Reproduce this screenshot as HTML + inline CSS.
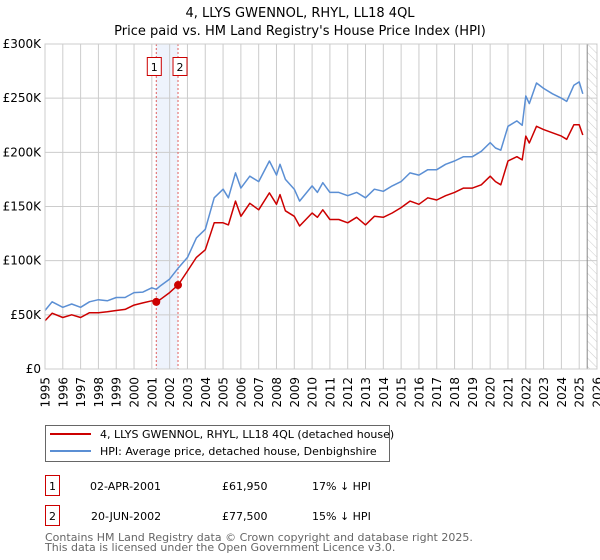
<!DOCTYPE html>
<html><head><meta charset="utf-8"><style>
body{margin:0;background:#fff;font-family:"DejaVu Sans","Liberation Sans",sans-serif;}
svg{display:block}
text{font-family:"DejaVu Sans","Liberation Sans",sans-serif}
</style></head><body>
<svg id="chart" width="600" height="560" viewBox="0 0 600 560" xmlns="http://www.w3.org/2000/svg">
<defs><pattern id="hatch" width="6" height="6" patternUnits="userSpaceOnUse" patternTransform="rotate(-45)"><line x1="0" y1="0" x2="0" y2="6" stroke="#ccc" stroke-width="1"/></pattern></defs>
<text x="300" y="17" text-anchor="middle" font-size="13" fill="#000">4, LLYS GWENNOL, RHYL, LL18 4QL</text>
<text x="300" y="35" text-anchor="middle" font-size="13" fill="#000">Price paid vs. HM Land Registry's House Price Index (HPI)</text>
<g id="plot"></g>
<g>
<rect x="45.5" y="425.5" width="344" height="36" fill="#fff" stroke="#666"/>
<line x1="50" y1="434" x2="91" y2="434" stroke="#cc0000" stroke-width="2"/>
<text x="100" y="438" font-size="11">4, LLYS GWENNOL, RHYL, LL18 4QL (detached house)</text>
<line x1="50" y1="451" x2="91" y2="451" stroke="#5b8fd4" stroke-width="2"/>
<text x="100" y="455" font-size="11">HPI: Average price, detached house, Denbighshire</text>
</g>
<g font-size="11">
<rect x="45.5" y="475.5" width="14" height="20" fill="#fff" stroke="#cc0000"/>
<text x="52.5" y="490" text-anchor="middle">1</text>
<text x="90" y="490">02-APR-2001</text>
<text x="222" y="490">£61,950</text>
<text x="312" y="490">17% ↓ HPI</text>
</g>
<g font-size="11">
<rect x="45.5" y="505.5" width="14" height="20" fill="#fff" stroke="#cc0000"/>
<text x="52.5" y="520" text-anchor="middle">2</text>
<text x="91" y="520">20-JUN-2002</text>
<text x="222" y="520">£77,500</text>
<text x="312" y="520">15% ↓ HPI</text>
</g>
<text x="45" y="541" font-size="11" fill="#666">Contains HM Land Registry data © Crown copyright and database right 2025.</text>
<text x="45" y="551" font-size="11" fill="#666">This data is licensed under the Open Government Licence v3.0.</text>
</svg>
<script>
const years=[1995,1995.4,1996,1996.5,1997,1997.5,1998,1998.5,1999,1999.5,2000,2000.5,2001,2001.25,2001.5,2002,2002.5,2003,2003.5,2004,2004.5,2005,2005.3,2005.7,2006,2006.5,2007,2007.6,2008,2008.2,2008.5,2009,2009.3,2010,2010.3,2010.6,2011,2011.5,2012,2012.5,2013,2013.5,2014,2014.5,2015,2015.5,2016,2016.5,2017,2017.5,2018,2018.5,2019,2019.5,2020,2020.3,2020.6,2021,2021.5,2021.8,2022,2022.2,2022.6,2023,2023.5,2024,2024.3,2024.7,2025,2025.2];
const hpiValues=[54,62,57,60,57,62,64,63,66,66,70.5,71,75,73.6,77,83,93.5,103,121,129,158,166,158,181,167,178,173,192,179,189,175,166,155,169,163,172,163,163,160,163,158,166,164,169,173,181,179,184,184,189,192,196,196,201,209,204,202,224,229,225,252,245,264,259,254,250,247,262,265,254];
const priceValues=[44.5,51.5,47.5,50,47.5,52,52,52.8,54,55,59,61,63,62,64.4,70.5,78,90.5,103,110,135,135,133,155,141,153,147,162.6,152,161,146,141,132,144,140,147,138,138,135,140,133,141,140,144,149,155,152,158,156,160,163,167,167,170,178,173,170,192,196,193,215,208.6,224,221,218,215,212,225.5,225.5,216];
const saleYears=[2001.25,2002.47];
const salePrices=[61.95,77.5];
const saleLabels=["1","2"];
const yTicks=[0,50,100,150,200,250,300];
const yTickLabels=["£0","£50K","£100K","£150K","£200K","£250K","£300K"];
const xTicks=[1995,1996,1997,1998,1999,2000,2001,2002,2003,2004,2005,2006,2007,2008,2009,2010,2011,2012,2013,2014,2015,2016,2017,2018,2019,2020,2021,2022,2023,2024,2025,2026];
const dataEnd=2025.45;

const X0=45,X1=597,Y0=369,Y1=44;
const x=v=>X0+(v-1995)/(2026-1995)*(X1-X0);
const y=v=>Y0-(v/300)*(Y0-Y1);
const NS="http://www.w3.org/2000/svg";
const g=document.getElementById('plot');
function mk(tag,attrs){const e=document.createElementNS(NS,tag);for(const k in attrs)e.setAttribute(k,attrs[k]);g.appendChild(e);return e;}

const bg=mk('rect',{x:X0,y:Y1,width:X1-X0,height:Y0-Y1,fill:'#fff'});


const band=mk('rect',{x:x(saleYears[0]),y:Y1,width:x(saleYears[1])-x(saleYears[0]),height:Y0-Y1,fill:'#eef3fc'});


const hatch=mk('rect',{x:x(dataEnd),y:Y1,width:X1-x(dataEnd),height:Y0-Y1,fill:'url(#hatch)'});



xTicks.forEach(t=>{
  const l=mk('line',{x1:x(t),x2:x(t),y1:Y1,y2:Y0,stroke:'#ccc','stroke-width':1});
  
  
  const tx=mk('text',{x:0,y:0,'text-anchor':'end','font-size':12,transform:'translate('+(x(t)+4.5)+','+(Y0+8)+') rotate(-90)'});
  
  
  tx.textContent=t;
});
yTicks.forEach((t,i)=>{
  const l=mk('line',{x1:X0,x2:X1,y1:y(t),y2:y(t),stroke:'#ccc','stroke-width':1});
  
  
  const tx=mk('text',{x:X0-4,y:y(t)+4,'text-anchor':'end','font-size':12});
  
  
  tx.textContent=yTickLabels[i];
});
const el=mk('line',{x1:x(dataEnd),x2:x(dataEnd),y1:Y1,y2:Y0,stroke:'#888','stroke-width':1});



saleYears.forEach((s,i)=>{
  const l=mk('line',{x1:x(s),x2:x(s),y1:Y1,y2:Y0,stroke:'#e06060','stroke-width':1,'stroke-dasharray':'2,2'});
  
  
});

function path(vals,color,name){
  const d=years.map((t,i)=>(i?'L':'M')+x(t).toFixed(1)+','+y(vals[i]).toFixed(1)).join('');
  const p=mk('path',{d:d,fill:'none',stroke:color,'stroke-width':1.5,'stroke-linejoin':'round'});
  
  
}
path(hpiValues,'#5b8fd4','hpi-line');
path(priceValues,'#cc0000','price-paid-line');

saleYears.forEach((s,i)=>{
  const c=mk('circle',{cx:x(s),cy:y(salePrices[i]),r:4,fill:'#cc0000'});
  
  
  const bx=x(s)-7;
  const r=mk('rect',{x:bx-(i==0?2:-2),y:57.5,width:14,height:18,fill:'#fff',stroke:'#cc0000'});
  
  
  const t=mk('text',{x:bx-(i==0?2:-2)+7,y:71,'text-anchor':'middle','font-size':11});
  
  
  t.textContent=saleLabels[i];
});
const ax=mk('rect',{x:X0,y:Y1,width:X1-X0,height:Y0-Y1,fill:'none',stroke:'#ccc'});


</script>
</body></html>
